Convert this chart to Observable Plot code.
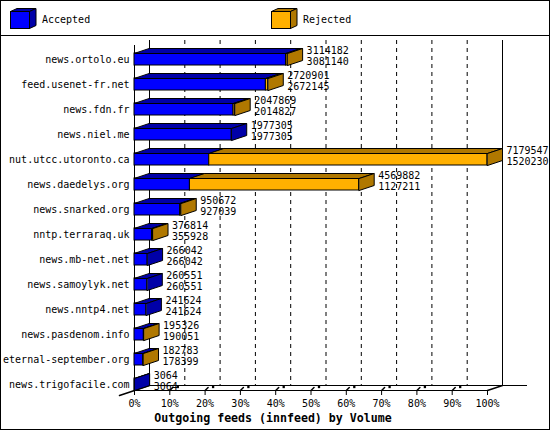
<!DOCTYPE html>
<html><head><meta charset="utf-8">
<script src="https://cdn.jsdelivr.net/npm/d3@7"></script>
<script src="https://cdn.jsdelivr.net/npm/@observablehq/plot@0.6"></script>
<style>
html,body{margin:0;padding:0;background:#fff}
#wrap{width:550px;height:430px;box-sizing:border-box;border:1px solid #000;font-family:"DejaVu Sans Mono",monospace;overflow:hidden;background:#fff}
#legend{height:34px;border-bottom:1px solid #000}
#legend svg,#chart svg{display:block}
#caption{height:20px;line-height:20px;text-align:center;font-weight:bold;font-size:11.6px;padding-right:4px;white-space:pre}
</style></head><body>
<div id="wrap"><div id="legend"></div><div id="chart"></div><div id="caption"></div></div>
<script>
// ---- data ----
const hosts = ["news.ortolo.eu","feed.usenet-fr.net","news.fdn.fr","news.niel.me","nut.utcc.utoronto.ca","news.daedelys.org","news.snarked.org","nntp.terraraq.uk","news.mb-net.net","news.samoylyk.net","news.nntp4.net","news.pasdenom.info","eternal-september.org","news.trigofacile.com"];
const offered  = [3114182,2720901,2047869,1977305,7179547,4569882,950672,376814,266042,260551,241624,195326,182783,3064];
const accepted = [3081140,2672145,2014827,1977305,1520230,1127211,927039,355928,266042,260551,241624,190051,178399,3064];
const seriesNames = ["Accepted","Rejected"];
const frontColors = ["#0000ff","#ffb000"];
const shadeColors = ["#0000a8","#b07800"];
const tickValues = [0,10,20,30,40,50,60,70,80,90,100];
const tickLabels = ["0%","10%","20%","30%","40%","50%","60%","70%","80%","90%","100%"];
const title = "Outgoing feeds (innfeed) by Volume";

// ---- layout ----
const W = 548, H = 372;
const X0 = 133, X1 = 486;
const pxU = (X1 - X0) / 100;          // px per percent
const ROW = 25;                        // px per row
const dX = 15 / pxU;                   // depth in x units
const dY = 5 / ROW;                    // depth in y units
const hH = 6 / ROW;                    // half bar height
const n = hosts.length;
const floorF = (n - 1) + hH;           // front floor
const floorB = floorF - dY;            // back floor
const wallTop = -0.76;

const maxOff = d3.max(offered);
const rows = hosts.map((h, i) => ({i, host: h, total: offered[i] / maxOff * 100, acc: accepted[i] / maxOff * 100, off: offered[i], accd: accepted[i]}));

const segs = [];
rows.forEach(r => {
  const hasRej = r.total > r.acc;
  segs.push({i: r.i, s: 0, x1: 0, x2: r.acc, last: !hasRej});
  if (hasRej) segs.push({i: r.i, s: 1, x1: r.acc, x2: r.total, last: true});
});
segs.forEach((g, k) => g.k = k);
const topV = segs.flatMap(g => [
  {k: g.k, s: g.s, x: g.x1, y: g.i - hH},
  {k: g.k, s: g.s, x: g.x2, y: g.i - hH},
  {k: g.k, s: g.s, x: g.x2 + dX, y: g.i - hH - dY},
  {k: g.k, s: g.s, x: g.x1 + dX, y: g.i - hH - dY}]);
const sideV = segs.filter(g => g.last).flatMap(g => [
  {k: g.k, s: g.s, x: g.x2, y: g.i - hH},
  {k: g.k, s: g.s, x: g.x2 + dX, y: g.i - hH - dY},
  {k: g.k, s: g.s, x: g.x2 + dX, y: g.i + hH - dY},
  {k: g.k, s: g.s, x: g.x2, y: g.i + hH}]);

const inner = tickValues.slice(1, -1);
const tickSlash = inner.flatMap(t => [{t, x: t, y: floorF}, {t, x: t + 3 / pxU, y: floorF - 3 / ROW}]);

const polyMarks = [];
[0, 1].forEach(s => {
  polyMarks.push(Plot.line(topV.filter(d => d.s === s), {x: "x", y: "y", z: "k", fill: shadeColors[s], stroke: "#000", strokeWidth: 1, curve: "linear-closed"}));
  polyMarks.push(Plot.line(sideV.filter(d => d.s === s), {x: "x", y: "y", z: "k", fill: shadeColors[s], stroke: "#000", strokeWidth: 1, curve: "linear-closed"}));
});

const chart = Plot.plot({
  width: W, height: H,
  marginLeft: X0, marginRight: W - X1, marginTop: 0, marginBottom: H - 354,
  style: {fontFamily: "'DejaVu Sans Mono', monospace", fontSize: "10px", background: "#fff", overflow: "visible"},
  x: {domain: [0, 100], axis: null},
  y: {domain: [-0.5, n - 0.5], range: [10.5, 10.5 + ROW * n], axis: null},
  marks: [
    // back wall
    Plot.ruleX(inner, {x: t => t + dX, y1: wallTop, y2: floorB, stroke: "#000", strokeDasharray: "4,4"}),
    Plot.ruleX([0 + dX, 100 + dX], {y1: wallTop, y2: floorB, stroke: "#000"}),
    Plot.ruleX([0], {y1: wallTop + dY, y2: floorF, stroke: "#000"}),
    // floor
    Plot.ruleY([floorB], {x1: dX, x2: 100 + dX + 25 / pxU, stroke: "#000"}),
    Plot.ruleY([floorF], {x1: 0, x2: 100, stroke: "#000"}),
    Plot.line([{x: -dX, y: floorF + dY}, {x: dX, y: floorB}], {x: "x", y: "y", stroke: "#000"}),
    Plot.line([{x: 100, y: floorF}, {x: 100 + dX, y: floorB}], {x: "x", y: "y", stroke: "#000"}),
    // ticks
    Plot.ruleX(tickValues, {x: d => d, y1: floorF, y2: floorF + 5 / ROW, stroke: "#000"}),
    Plot.line(tickSlash, {x: "x", y: "y", z: "t", stroke: "#000"}),
    Plot.dot(inner, {x: d => d, y: floorB, dx: 8, dy: 1.5, symbol: "square", r: 1.3, fill: "#000", stroke: null}),
    Plot.text(tickValues, {x: d => d, y: floorF, dy: 13, text: (d, i) => tickLabels[i], fontSize: 10}),
    // bars
    Plot.rect(segs, {x1: "x1", x2: "x2", y1: d => d.i - hH, y2: d => d.i + hH, fill: d => frontColors[d.s], stroke: "#000", strokeWidth: 1}),
    ...polyMarks,
    // labels
    Plot.text(rows, {x: 0, y: "i", text: "host", textAnchor: "end", dx: -5, fontSize: 10}),
    Plot.text(rows, {x: "total", y: "i", text: d => String(d.off), textAnchor: "start", dx: 19, dy: -9, fontSize: 10}),
    Plot.text(rows, {x: "total", y: "i", text: d => String(d.accd), textAnchor: "start", dx: 19, dy: 2, fontSize: 10})
  ]
});
document.getElementById("chart").appendChild(chart);
document.getElementById("caption").textContent = title;

// ---- legend ----
const ns = "http://www.w3.org/2000/svg";
const lg = document.createElementNS(ns, "svg");
lg.setAttribute("width", 548); lg.setAttribute("height", 34);
const legendX = [9, 270];
seriesNames.forEach((name, s) => {
  const x = legendX[s], y = 10, w = 19, h = 17, dx = 6.5, dy = 3;
  const mk = (tag, attrs) => { const e = document.createElementNS(ns, tag); for (const k in attrs) e.setAttribute(k, attrs[k]); lg.appendChild(e); return e; };
  mk("polygon", {points: `${x+.5},${y+.5} ${x+dx+.5},${y-dy+.5} ${x+w+dx+.5},${y-dy+.5} ${x+w+.5},${y+.5}`, fill: shadeColors[s], stroke: "#000"});
  mk("polygon", {points: `${x+w+.5},${y+.5} ${x+w+dx+.5},${y-dy+.5} ${x+w+dx+.5},${y+h-dy+.5} ${x+w+.5},${y+h+.5}`, fill: shadeColors[s], stroke: "#000"});
  mk("rect", {x: x + .5, y: y + .5, width: w, height: h, fill: frontColors[s], stroke: "#000"});
  const t = mk("text", {x: x + 32, y: y + 9, "dominant-baseline": "middle", "font-size": 10, "font-family": "'DejaVu Sans Mono', monospace"});
  t.textContent = name;
});
document.getElementById("legend").appendChild(lg);
</script>
</body></html>
